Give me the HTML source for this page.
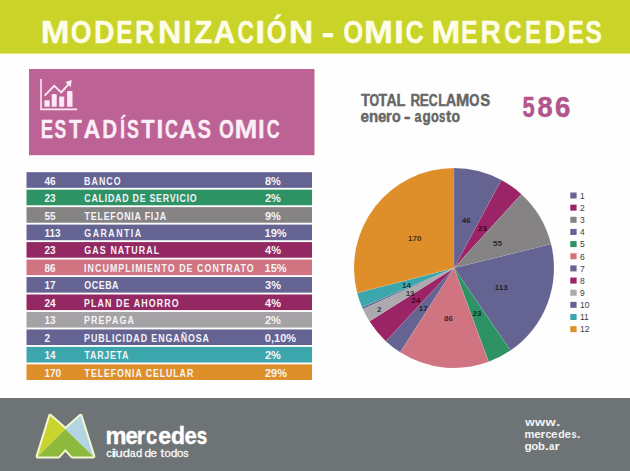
<!DOCTYPE html>
<html><head><meta charset="utf-8"><style>
html,body{margin:0;padding:0;background:#fff;}
svg{display:block;}
text{font-family:"Liberation Sans",Arial,sans-serif;}
</style></head><body>
<svg width="630" height="471" viewBox="0 0 630 471">
<rect width="630" height="471" fill="#fefefe"/>
<rect x="0" y="0" width="630" height="53.6" fill="#cad327"/>
<text y="42.7" font-size="32.2" font-weight="bold" fill="#fdfde8" stroke="#fdfde8" stroke-width="0.4" stroke-linejoin="round"><tspan x="40.87" textLength="28.78" lengthAdjust="spacingAndGlyphs">M</tspan><tspan x="70.64" textLength="20.71" lengthAdjust="spacingAndGlyphs">O</tspan><tspan x="93.99" textLength="20.40" lengthAdjust="spacingAndGlyphs">D</tspan><tspan x="116.25" textLength="16.32" lengthAdjust="spacingAndGlyphs">E</tspan><tspan x="134.88" textLength="19.52" lengthAdjust="spacingAndGlyphs">R</tspan><tspan x="158.02" textLength="23.36" lengthAdjust="spacingAndGlyphs">N</tspan><tspan x="183.02" textLength="8.58" lengthAdjust="spacingAndGlyphs">I</tspan><tspan x="194.30" textLength="18.24" lengthAdjust="spacingAndGlyphs">Z</tspan><tspan x="213.54" textLength="21.88" lengthAdjust="spacingAndGlyphs">A</tspan><tspan x="237.50" textLength="16.32" lengthAdjust="spacingAndGlyphs">C</tspan><tspan x="255.18" textLength="9.94" lengthAdjust="spacingAndGlyphs">I</tspan><tspan x="266.78" textLength="19.92" lengthAdjust="spacingAndGlyphs">Ó</tspan><tspan x="289.04" textLength="24.22" lengthAdjust="spacingAndGlyphs">N</tspan> <tspan x="321.80" textLength="12.53" lengthAdjust="spacingAndGlyphs">-</tspan> <tspan x="343.18" textLength="19.92" lengthAdjust="spacingAndGlyphs">O</tspan><tspan x="364.06" textLength="28.90" lengthAdjust="spacingAndGlyphs">M</tspan><tspan x="393.98" textLength="9.94" lengthAdjust="spacingAndGlyphs">I</tspan><tspan x="405.59" textLength="18.19" lengthAdjust="spacingAndGlyphs">C</tspan> <tspan x="431.57" textLength="28.78" lengthAdjust="spacingAndGlyphs">M</tspan><tspan x="460.91" textLength="16.67" lengthAdjust="spacingAndGlyphs">E</tspan><tspan x="480.40" textLength="20.32" lengthAdjust="spacingAndGlyphs">R</tspan><tspan x="504.24" textLength="17.42" lengthAdjust="spacingAndGlyphs">C</tspan><tspan x="525.07" textLength="16.08" lengthAdjust="spacingAndGlyphs">E</tspan><tspan x="544.29" textLength="21.46" lengthAdjust="spacingAndGlyphs">D</tspan><tspan x="567.67" textLength="16.08" lengthAdjust="spacingAndGlyphs">E</tspan><tspan x="585.35" textLength="16.63" lengthAdjust="spacingAndGlyphs">S</tspan></text>
<rect x="29" y="69" width="285.5" height="86.2" fill="#bc6295"/>
<g fill="none" stroke="#fbeaf4" stroke-width="1.6">
<path d="M41,79 V109.4 H77.2"/>
<path d="M44.6,95.6 L54.2,85.8 L61.3,92.4 L68.6,84.2" stroke-width="1.9"/>
</g>
<path d="M71.8,80 L65.4,82 L70.6,87.2 Z" fill="#fbeaf4"/>
<g fill="#fbeaf4">
<rect x="44.4" y="100.2" width="5.3" height="6.5" rx="0.8"/>
<rect x="51.7" y="94" width="5" height="12.7" rx="0.8"/>
<rect x="59.2" y="96.5" width="5" height="10.2" rx="0.8"/>
<rect x="67.1" y="91.1" width="5.4" height="15.6" rx="0.8"/>
</g>
<text y="138.2" font-size="25.4" font-weight="bold" fill="#fbeef6" stroke="#fbeef6" stroke-width="0.3" stroke-linejoin="round"><tspan x="40.65" textLength="12.39" lengthAdjust="spacingAndGlyphs">E</tspan><tspan x="54.47" textLength="11.72" lengthAdjust="spacingAndGlyphs">S</tspan><tspan x="69.09" textLength="12.73" lengthAdjust="spacingAndGlyphs">T</tspan><tspan x="83.42" textLength="16.82" lengthAdjust="spacingAndGlyphs">A</tspan><tspan x="102.31" textLength="14.86" lengthAdjust="spacingAndGlyphs">D</tspan><tspan x="119.98" textLength="5.11" lengthAdjust="spacingAndGlyphs">Í</tspan><tspan x="127.06" textLength="11.94" lengthAdjust="spacingAndGlyphs">S</tspan><tspan x="141.28" textLength="13.46" lengthAdjust="spacingAndGlyphs">T</tspan><tspan x="156.44" textLength="6.82" lengthAdjust="spacingAndGlyphs">I</tspan><tspan x="164.98" textLength="13.01" lengthAdjust="spacingAndGlyphs">C</tspan><tspan x="179.01" textLength="17.14" lengthAdjust="spacingAndGlyphs">A</tspan><tspan x="197.39" textLength="13.51" lengthAdjust="spacingAndGlyphs">S</tspan> <tspan x="218.93" textLength="14.89" lengthAdjust="spacingAndGlyphs">O</tspan><tspan x="234.64" textLength="22.93" lengthAdjust="spacingAndGlyphs">M</tspan><tspan x="257.99" textLength="6.63" lengthAdjust="spacingAndGlyphs">I</tspan><tspan x="266.79" textLength="12.90" lengthAdjust="spacingAndGlyphs">C</tspan></text>
<text y="105.5" font-size="16" font-weight="bold" fill="#666666" stroke="#666666" stroke-width="0.45"><tspan x="360.95" textLength="8.90" lengthAdjust="spacingAndGlyphs">T</tspan><tspan x="369.51" textLength="9.63" lengthAdjust="spacingAndGlyphs">O</tspan><tspan x="378.46" textLength="8.59" lengthAdjust="spacingAndGlyphs">T</tspan><tspan x="386.55" textLength="10.13" lengthAdjust="spacingAndGlyphs">A</tspan><tspan x="396.44" textLength="8.70" lengthAdjust="spacingAndGlyphs">L</tspan> <tspan x="410.40" textLength="9.59" lengthAdjust="spacingAndGlyphs">R</tspan><tspan x="419.78" textLength="9.05" lengthAdjust="spacingAndGlyphs">E</tspan><tspan x="428.81" textLength="8.82" lengthAdjust="spacingAndGlyphs">C</tspan><tspan x="438.13" textLength="7.87" lengthAdjust="spacingAndGlyphs">L</tspan><tspan x="445.64" textLength="10.46" lengthAdjust="spacingAndGlyphs">A</tspan><tspan x="456.03" textLength="13.26" lengthAdjust="spacingAndGlyphs">M</tspan><tspan x="469.28" textLength="10.18" lengthAdjust="spacingAndGlyphs">O</tspan><tspan x="480.25" textLength="9.94" lengthAdjust="spacingAndGlyphs">S</tspan></text>
<text y="121.5" font-size="15.8" font-weight="bold" fill="#666666" stroke="#666666" stroke-width="0.45"><tspan x="360.49" textLength="8.53" lengthAdjust="spacingAndGlyphs">e</tspan><tspan x="368.92" textLength="9.19" lengthAdjust="spacingAndGlyphs">n</tspan><tspan x="377.99" textLength="8.41" lengthAdjust="spacingAndGlyphs">e</tspan><tspan x="386.06" textLength="5.65" lengthAdjust="spacingAndGlyphs">r</tspan><tspan x="392.03" textLength="8.72" lengthAdjust="spacingAndGlyphs">o</tspan> <tspan x="404.02" textLength="6.46" lengthAdjust="spacingAndGlyphs">-</tspan> <tspan x="414.42" textLength="7.00" lengthAdjust="spacingAndGlyphs">a</tspan><tspan x="422.56" textLength="8.23" lengthAdjust="spacingAndGlyphs">g</tspan><tspan x="430.89" textLength="7.80" lengthAdjust="spacingAndGlyphs">o</tspan><tspan x="439.00" textLength="6.37" lengthAdjust="spacingAndGlyphs">s</tspan><tspan x="445.90" textLength="5.20" lengthAdjust="spacingAndGlyphs">t</tspan><tspan x="451.54" textLength="8.60" lengthAdjust="spacingAndGlyphs">o</tspan></text>
<text y="117.2" font-size="29.2" font-weight="bold" fill="#b3558c" stroke="#b3558c" stroke-width="0.5"><tspan x="522.44" textLength="12.19" lengthAdjust="spacingAndGlyphs">5</tspan><tspan x="537.42" textLength="15.13" lengthAdjust="spacingAndGlyphs">8</tspan><tspan x="554.97" textLength="15.33" lengthAdjust="spacingAndGlyphs">6</tspan></text>
<g font-size="10" font-weight="bold" fill="#f4f4f8">
<rect x="26.5" y="172.20" width="285.5" height="15.6" fill="#646392"/>
<text x="44.5" y="184.60">46</text>
<text x="97.79" y="184.6" transform="scale(0.86,1)" font-size="10.3" font-weight="bold" letter-spacing="1.188" fill="#f4f4f8">BANCO</text>
<text x="264.94" y="184.6" font-size="10" font-weight="bold" fill="#f4f4f8" textLength="15.90" lengthAdjust="spacingAndGlyphs">8%</text>
<rect x="26.5" y="189.67" width="285.5" height="15.6" fill="#2d9264"/>
<text x="44.5" y="202.07">23</text>
<text x="98.08" y="202.07" transform="scale(0.86,1)" font-size="10.3" font-weight="bold" letter-spacing="0.858" fill="#f4f4f8">CALIDAD DE SERVICIO</text>
<text x="264.92" y="202.07" font-size="10" font-weight="bold" fill="#f4f4f8" textLength="15.90" lengthAdjust="spacingAndGlyphs">2%</text>
<rect x="26.5" y="207.14" width="285.5" height="15.6" fill="#868385"/>
<text x="44.5" y="219.54">55</text>
<text x="98.39" y="219.54" transform="scale(0.86,1)" font-size="10.3" font-weight="bold" letter-spacing="0.904" fill="#f4f4f8">TELEFONIA FIJA</text>
<text x="264.92" y="219.54" font-size="10" font-weight="bold" fill="#f4f4f8" textLength="15.90" lengthAdjust="spacingAndGlyphs">9%</text>
<rect x="26.5" y="224.61" width="285.5" height="15.6" fill="#646392"/>
<text x="44.5" y="237.01">113</text>
<text x="98.08" y="237.01" transform="scale(0.86,1)" font-size="10.3" font-weight="bold" letter-spacing="1.669" fill="#f4f4f8">GARANTIA</text>
<text x="264.61" y="237.01" font-size="10" font-weight="bold" fill="#f4f4f8" textLength="22.02" lengthAdjust="spacingAndGlyphs">19%</text>
<rect x="26.5" y="242.08" width="285.5" height="15.6" fill="#942862"/>
<text x="44.5" y="254.48">23</text>
<text x="98.08" y="254.48" transform="scale(0.86,1)" font-size="10.3" font-weight="bold" letter-spacing="1.281" fill="#f4f4f8">GAS NATURAL</text>
<text x="265.13" y="254.48" font-size="10" font-weight="bold" fill="#f4f4f8" textLength="15.90" lengthAdjust="spacingAndGlyphs">4%</text>
<rect x="26.5" y="259.55" width="285.5" height="15.6" fill="#d07482"/>
<text x="44.5" y="271.95">86</text>
<text x="97.79" y="271.95" transform="scale(0.86,1)" font-size="10.3" font-weight="bold" letter-spacing="1.213" fill="#f4f4f8">INCUMPLIMIENTO DE CONTRATO</text>
<text x="264.61" y="271.95" font-size="10" font-weight="bold" fill="#f4f4f8" textLength="22.02" lengthAdjust="spacingAndGlyphs">15%</text>
<rect x="26.5" y="277.02" width="285.5" height="15.6" fill="#646392"/>
<text x="44.5" y="289.42">17</text>
<text x="98.08" y="289.42" transform="scale(0.86,1)" font-size="10.3" font-weight="bold" letter-spacing="0.639" fill="#f4f4f8">OCEBA</text>
<text x="265.05" y="289.42" font-size="10" font-weight="bold" fill="#f4f4f8" textLength="15.90" lengthAdjust="spacingAndGlyphs">3%</text>
<rect x="26.5" y="294.49" width="285.5" height="15.6" fill="#942862"/>
<text x="44.5" y="306.89">24</text>
<text x="97.79" y="306.89" transform="scale(0.86,1)" font-size="10.3" font-weight="bold" letter-spacing="1.269" fill="#f4f4f8">PLAN DE AHORRO</text>
<text x="265.13" y="306.89" font-size="10" font-weight="bold" fill="#f4f4f8" textLength="15.90" lengthAdjust="spacingAndGlyphs">4%</text>
<rect x="26.5" y="311.96" width="285.5" height="15.6" fill="#a4a2a4"/>
<text x="44.5" y="324.36">13</text>
<text x="97.79" y="324.36" transform="scale(0.86,1)" font-size="10.3" font-weight="bold" letter-spacing="1.295" fill="#f4f4f8">PREPAGA</text>
<text x="264.92" y="324.36" font-size="10" font-weight="bold" fill="#f4f4f8" textLength="15.90" lengthAdjust="spacingAndGlyphs">2%</text>
<rect x="26.5" y="329.43" width="285.5" height="15.6" fill="#646392"/>
<text x="44.5" y="341.83">2</text>
<text x="97.79" y="341.83" transform="scale(0.86,1)" font-size="10.3" font-weight="bold" letter-spacing="1.084" fill="#f4f4f8">PUBLICIDAD ENGAÑOSA</text>
<text x="264.86" y="341.83" font-size="10" font-weight="bold" fill="#f4f4f8" textLength="31.19" lengthAdjust="spacingAndGlyphs">0,10%</text>
<rect x="26.5" y="346.90" width="285.5" height="15.6" fill="#3ba6ac"/>
<text x="44.5" y="359.30">14</text>
<text x="98.39" y="359.3" transform="scale(0.86,1)" font-size="10.3" font-weight="bold" letter-spacing="0.853" fill="#f4f4f8">TARJETA</text>
<text x="264.92" y="359.3" font-size="10" font-weight="bold" fill="#f4f4f8" textLength="15.90" lengthAdjust="spacingAndGlyphs">2%</text>
<rect x="26.5" y="364.37" width="285.5" height="15.6" fill="#df8f2a"/>
<text x="44.5" y="376.77">170</text>
<text x="98.39" y="376.77" transform="scale(0.86,1)" font-size="10.3" font-weight="bold" letter-spacing="1.028" fill="#f4f4f8">TELEFONIA CELULAR</text>
<text x="264.92" y="376.77" font-size="10" font-weight="bold" fill="#f4f4f8" textLength="22.02" lengthAdjust="spacingAndGlyphs">29%</text>
</g>
<path d="M454.0,268.0 L454.00,168.00 A100.0,100.0 0 0 1 501.35,179.92 Z" fill="#646392" stroke="#ffffff" stroke-opacity="0.15" stroke-width="0.6"/>
<path d="M454.0,268.0 L501.35,179.92 A100.0,100.0 0 0 1 521.42,194.14 Z" fill="#9b2466" stroke="#ffffff" stroke-opacity="0.15" stroke-width="0.6"/>
<path d="M454.0,268.0 L521.42,194.14 A100.0,100.0 0 0 1 551.10,244.11 Z" fill="#868385" stroke="#ffffff" stroke-opacity="0.15" stroke-width="0.6"/>
<path d="M454.0,268.0 L551.10,244.11 A100.0,100.0 0 0 1 510.50,350.51 Z" fill="#646392" stroke="#ffffff" stroke-opacity="0.15" stroke-width="0.6"/>
<path d="M454.0,268.0 L510.50,350.51 A100.0,100.0 0 0 1 488.65,361.81 Z" fill="#2d9264" stroke="#ffffff" stroke-opacity="0.15" stroke-width="0.6"/>
<path d="M454.0,268.0 L488.65,361.81 A100.0,100.0 0 0 1 400.18,352.28 Z" fill="#d07482" stroke="#ffffff" stroke-opacity="0.15" stroke-width="0.6"/>
<path d="M454.0,268.0 L400.18,352.28 A100.0,100.0 0 0 1 385.80,341.13 Z" fill="#646392" stroke="#ffffff" stroke-opacity="0.15" stroke-width="0.6"/>
<path d="M454.0,268.0 L385.80,341.13 A100.0,100.0 0 0 1 369.43,321.37 Z" fill="#9b2466" stroke="#ffffff" stroke-opacity="0.15" stroke-width="0.6"/>
<path d="M454.0,268.0 L369.43,321.37 A100.0,100.0 0 0 1 362.84,309.10 Z" fill="#acaaad" stroke="#ffffff" stroke-opacity="0.15" stroke-width="0.6"/>
<path d="M454.0,268.0 L362.84,309.10 A100.0,100.0 0 0 1 361.98,307.13 Z" fill="#646392" stroke="#ffffff" stroke-opacity="0.15" stroke-width="0.6"/>
<path d="M454.0,268.0 L361.98,307.13 A100.0,100.0 0 0 1 357.16,292.93 Z" fill="#3ba6ac" stroke="#ffffff" stroke-opacity="0.15" stroke-width="0.6"/>
<path d="M454.0,268.0 L357.16,292.93 A100.0,100.0 0 0 1 454.00,168.00 Z" fill="#df8f2a" stroke="#ffffff" stroke-opacity="0.15" stroke-width="0.6"/>
<g font-size="8" font-weight="bold" fill="#000" fill-opacity="0.72">
<text x="466.2" y="222.8" text-anchor="middle">46</text>
<text x="482.5" y="230.8" text-anchor="middle">23</text>
<text x="497.5" y="246.2" text-anchor="middle">55</text>
<text x="501.2" y="289.6" text-anchor="middle">113</text>
<text x="476.9" y="315.8" text-anchor="middle">23</text>
<text x="448.4" y="321.4" text-anchor="middle">86</text>
<text x="423.2" y="311.1" text-anchor="middle">17</text>
<text x="415.7" y="303.2" text-anchor="middle">24</text>
<text x="410.1" y="295.7" text-anchor="middle">13</text>
<text x="406.4" y="287.8" text-anchor="middle">14</text>
<text x="379.3" y="312" text-anchor="middle">2</text>
<text x="414.8" y="240.6" text-anchor="middle">170</text>
</g>
<g font-size="8.5" fill="#404040">
<rect x="570.3" y="192.50" width="6.3" height="6" fill="#646392"/>
<text x="580" y="198.80">1</text>
<rect x="570.3" y="204.65" width="6.3" height="6" fill="#9b2466"/>
<text x="580" y="210.95">2</text>
<rect x="570.3" y="216.80" width="6.3" height="6" fill="#868385"/>
<text x="580" y="223.10">3</text>
<rect x="570.3" y="228.95" width="6.3" height="6" fill="#646392"/>
<text x="580" y="235.25">4</text>
<rect x="570.3" y="241.10" width="6.3" height="6" fill="#2d9264"/>
<text x="580" y="247.40">5</text>
<rect x="570.3" y="253.25" width="6.3" height="6" fill="#d07482"/>
<text x="580" y="259.55">6</text>
<rect x="570.3" y="265.40" width="6.3" height="6" fill="#646392"/>
<text x="580" y="271.70">7</text>
<rect x="570.3" y="277.55" width="6.3" height="6" fill="#9b2466"/>
<text x="580" y="283.85">8</text>
<rect x="570.3" y="289.70" width="6.3" height="6" fill="#acaaad"/>
<text x="580" y="296.00">9</text>
<rect x="570.3" y="301.85" width="6.3" height="6" fill="#646392"/>
<text x="580" y="308.15">10</text>
<rect x="570.3" y="314.00" width="6.3" height="6" fill="#3ba6ac"/>
<text x="580" y="320.30">11</text>
<rect x="570.3" y="326.15" width="6.3" height="6" fill="#df8f2a"/>
<text x="580" y="332.45">12</text>
</g>
<rect x="0" y="398" width="630" height="73" fill="#6e7375"/>
<g>
<path d="M37.6,456.4 L50.2,415.8 L65.4,429.2 L80.6,415.8 L93.4,456.4 L72.2,456.4 L65.4,449 L58.6,456.4 Z" fill="#f3f7d2" stroke="#f3f7d2" stroke-width="4" stroke-linejoin="round"/>
<path d="M37.6,456.4 L50.2,415.8 L65.4,429.2 Z" fill="#c9d42c"/>
<path d="M65.4,429.2 L80.6,415.8 L93.4,456.4 Z" fill="#b3d4e3"/>
<path d="M37.6,456.4 L65.4,429.2 L93.4,456.4 L72.2,456.4 L65.4,449 L58.6,456.4 Z" fill="#8dba3c"/>
</g>
<text y="443.6" font-size="23" font-weight="bold" fill="#ffffff" stroke="#ffffff" stroke-width="0.4"><tspan x="105.47" textLength="20.99" lengthAdjust="spacingAndGlyphs">m</tspan><tspan x="125.41" textLength="12.33" lengthAdjust="spacingAndGlyphs">e</tspan><tspan x="136.87" textLength="8.54" lengthAdjust="spacingAndGlyphs">r</tspan><tspan x="145.99" textLength="11.29" lengthAdjust="spacingAndGlyphs">c</tspan><tspan x="158.17" textLength="12.91" lengthAdjust="spacingAndGlyphs">e</tspan><tspan x="171.08" textLength="14.03" lengthAdjust="spacingAndGlyphs">d</tspan><tspan x="184.41" textLength="12.33" lengthAdjust="spacingAndGlyphs">e</tspan><tspan x="196.64" textLength="10.43" lengthAdjust="spacingAndGlyphs">s</tspan></text>
<text y="456.6" font-size="11.4" font-weight="normal" fill="#f8f8f8" stroke="#f8f8f8" stroke-width="0.3"><tspan x="106.14" textLength="5.47" lengthAdjust="spacingAndGlyphs">c</tspan><tspan x="111.18" textLength="5.33" lengthAdjust="spacingAndGlyphs">i</tspan><tspan x="115.56" textLength="7.20" lengthAdjust="spacingAndGlyphs">u</tspan><tspan x="122.74" textLength="7.29" lengthAdjust="spacingAndGlyphs">d</tspan><tspan x="129.88" textLength="5.53" lengthAdjust="spacingAndGlyphs">a</tspan><tspan x="136.02" textLength="6.30" lengthAdjust="spacingAndGlyphs">d</tspan> <tspan x="144.49" textLength="6.67" lengthAdjust="spacingAndGlyphs">d</tspan><tspan x="150.61" textLength="6.39" lengthAdjust="spacingAndGlyphs">e</tspan> <tspan x="160.50" textLength="3.70" lengthAdjust="spacingAndGlyphs">t</tspan><tspan x="164.42" textLength="6.24" lengthAdjust="spacingAndGlyphs">o</tspan><tspan x="170.79" textLength="6.67" lengthAdjust="spacingAndGlyphs">d</tspan><tspan x="176.91" textLength="6.36" lengthAdjust="spacingAndGlyphs">o</tspan><tspan x="183.21" textLength="5.26" lengthAdjust="spacingAndGlyphs">s</tspan></text>
<text y="426" font-size="11.5" font-weight="bold" fill="#f4f4f4"><tspan x="525.23" textLength="9.44" lengthAdjust="spacingAndGlyphs">w</tspan><tspan x="535.03" textLength="10.14" lengthAdjust="spacingAndGlyphs">w</tspan><tspan x="545.53" textLength="10.14" lengthAdjust="spacingAndGlyphs">w</tspan><tspan x="556.11" textLength="4.48" lengthAdjust="spacingAndGlyphs">.</tspan></text>
<text y="438.3" font-size="11.5" font-weight="bold" fill="#f4f4f4"><tspan x="524.48" textLength="9.91" lengthAdjust="spacingAndGlyphs">m</tspan><tspan x="534.23" textLength="6.57" lengthAdjust="spacingAndGlyphs">e</tspan><tspan x="540.60" textLength="4.77" lengthAdjust="spacingAndGlyphs">r</tspan><tspan x="545.48" textLength="5.82" lengthAdjust="spacingAndGlyphs">c</tspan><tspan x="551.13" textLength="6.57" lengthAdjust="spacingAndGlyphs">e</tspan><tspan x="558.28" textLength="6.41" lengthAdjust="spacingAndGlyphs">d</tspan><tspan x="564.53" textLength="6.57" lengthAdjust="spacingAndGlyphs">e</tspan><tspan x="571.38" textLength="5.10" lengthAdjust="spacingAndGlyphs">s</tspan><tspan x="576.80" textLength="3.70" lengthAdjust="spacingAndGlyphs">.</tspan></text>
<text y="449.7" font-size="11.5" font-weight="bold" fill="#f4f4f4"><tspan x="524.42" textLength="7.26" lengthAdjust="spacingAndGlyphs">g</tspan><tspan x="531.34" textLength="7.00" lengthAdjust="spacingAndGlyphs">o</tspan><tspan x="538.07" textLength="6.89" lengthAdjust="spacingAndGlyphs">b</tspan><tspan x="544.76" textLength="4.29" lengthAdjust="spacingAndGlyphs">.</tspan><tspan x="549.01" textLength="5.33" lengthAdjust="spacingAndGlyphs">a</tspan><tspan x="554.42" textLength="5.27" lengthAdjust="spacingAndGlyphs">r</tspan></text>
</svg>
</body></html>
